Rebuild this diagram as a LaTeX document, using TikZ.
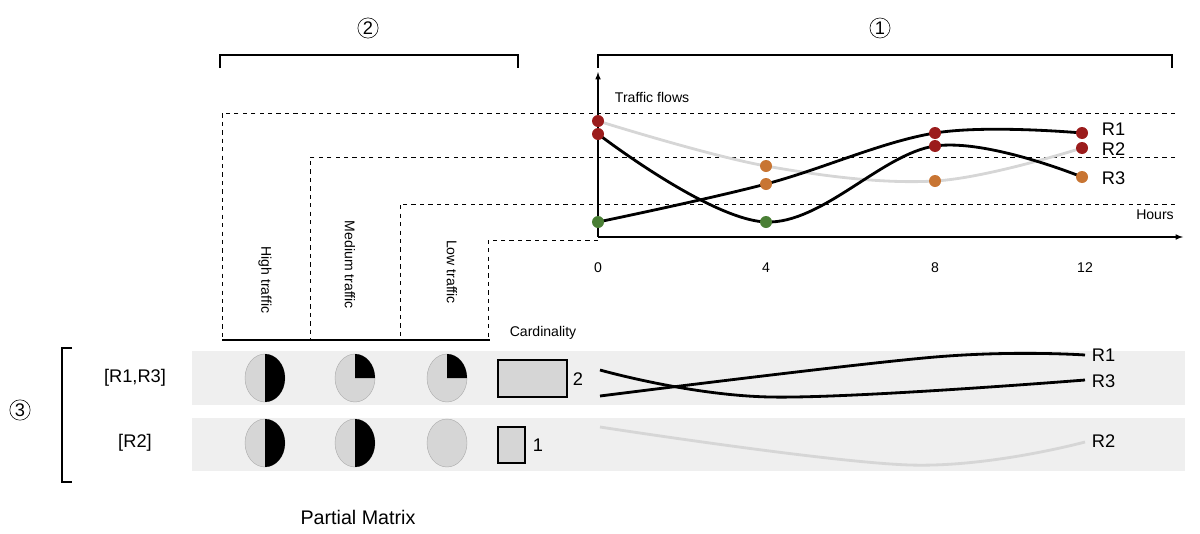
\documentclass[tikz,border=0pt]{standalone}
\usepackage{fontspec}
\setmainfont{Liberation Sans}
\usetikzlibrary{positioning}
\definecolor{dotred}{HTML}{9B1C1C}
\definecolor{dotorange}{HTML}{C87533}
\definecolor{dotgreen}{HTML}{4A7F35}
\definecolor{bandgray}{HTML}{EFEFEF}
\definecolor{piegray}{HTML}{D6D6D6}
\begin{document}
\begin{tikzpicture}[x=0.025cm, y=-0.025cm,
  dot/.style={circle, inner sep=0pt, minimum size=0.3cm},
  guide/.style={dashed, line width=0.7pt},
  bracket/.style={line width=0.8pt},
  curve/.style={line width=2pt},
  lbl/.style={font=\fontsize{13}{15}\selectfont},
  small/.style={font=\fontsize{10}{12}\selectfont},
  pie/.style={fill=piegray, draw=piegray!80!black, line width=0.3pt}]
  \useasboundingbox (0,0) rectangle (1200,533);
  % brackets with circled numbers
  \draw[bracket] (220,68) -- (220,55) -- (518,55) -- (518,68);
  \draw[bracket] (598,68) -- (598,55) -- (1172,55) -- (1172,68);
  \draw[bracket] (72,348) -- (62,348) -- (62,482) -- (72,482);
  \node[circle, draw, inner sep=1pt, lbl] (num2) at (368,28) {2};
  \node[circle, draw, inner sep=1pt, lbl] (num1) at (880,28) {1};
  \node[circle, draw, inner sep=1pt, lbl] (num3) at (20,410) {3};
  % dashed guides from the chart to the columns
  \draw[guide] (1175,113) -- (222,113) -- (222,340);
  \draw[guide] (1175,157) -- (310,157) -- (310,340);
  \draw[guide] (1175,204) -- (400,204) -- (400,340);
  \draw[guide] (598,240) -- (488,240) -- (488,340);
  \draw[line width=0.8pt] (222,340) -- (490,340);
  \node[small, rotate=-90] (high) at (265,280) {High traffic};
  \node[small, rotate=-90] (medium) at (350,265) {Medium traffic};
  \node[small, rotate=-90] (low) at (452,272) {Low traffic};
  \node[small] (card) at (543,333) {Cardinality};
  % axes
  \coordinate (origin) at (598,237);
  \coordinate (ytop) at (598,72);
  \coordinate (xend) at (1183,237);
  \draw[-latex, line width=0.8pt] (origin) -- (ytop);
  \draw[-latex, line width=0.8pt] (origin) -- (xend);
  \node[small, anchor=west] (yname) at (610,97) {Traffic flows};
  \node[small] (xname) at (1155,215) {Hours};
  \node[small] (t0) at (598,268) {0};
  \node[small] (t4) at (766,268) {4};
  \node[small] (t8) at (935,268) {8};
  \node[small] (t12) at (1085,268) {12};
  % chart points
  \coordinate (r2_pt0) at (598,121);
  \coordinate (r2_pt1) at (766,166);
  \coordinate (r2_pt2) at (935,181);
  \coordinate (r2_pt3) at (1082,148);
  \coordinate (r1_pt0) at (598,222);
  \coordinate (r1_pt1) at (766,184);
  \coordinate (r1_pt2) at (935,133);
  \coordinate (r1_pt3) at (1082,133);
  \coordinate (r3_pt0) at (598,134);
  \coordinate (r3_pt1) at (766,222);
  \coordinate (r3_pt2) at (935,146);
  \coordinate (r3_pt3) at (1082,177);
  \draw[curve, piegray] plot[smooth, tension=0.6] coordinates {(r2_pt0) (r2_pt1) (r2_pt2) (r2_pt3)};
  \draw[curve] plot[smooth, tension=0.6] coordinates {(r1_pt0) (r1_pt1) (r1_pt2) (r1_pt3)};
  \draw[curve] plot[smooth, tension=0.6] coordinates {(r3_pt0) (r3_pt1) (r3_pt2) (r3_pt3)};
  \node[dot, fill=dotred] (d_r2_0) at (r2_pt0) {};
  \node[dot, fill=dotorange] (d_r2_1) at (r2_pt1) {};
  \node[dot, fill=dotorange] (d_r2_2) at (r2_pt2) {};
  \node[dot, fill=dotred] (d_r2_3) at (r2_pt3) {};
  \node[dot, fill=dotgreen] (d_r1_0) at (r1_pt0) {};
  \node[dot, fill=dotorange] (d_r1_1) at (r1_pt1) {};
  \node[dot, fill=dotred] (d_r1_2) at (r1_pt2) {};
  \node[dot, fill=dotred] (d_r1_3) at (r1_pt3) {};
  \node[dot, fill=dotred] (d_r3_0) at (r3_pt0) {};
  \node[dot, fill=dotgreen] (d_r3_1) at (r3_pt1) {};
  \node[dot, fill=dotred] (d_r3_2) at (r3_pt2) {};
  \node[dot, fill=dotorange] (d_r3_3) at (r3_pt3) {};
  \node[lbl, anchor=west] (l_r1) at (1097,129) {R1};
  \node[lbl, anchor=west] (l_r2) at (1097,149) {R2};
  \node[lbl, anchor=west] (l_r3) at (1097,178) {R3};
  % matrix rows
  \fill[bandgray] (192,351) rectangle (1185,405);
  \fill[bandgray] (192,418) rectangle (1185,471);
  \node[lbl] (row1) at (135,378) {[R1,R3]};
  \node[lbl] (row2) at (135,443) {[R2]};
  % pies, first row
  \draw[pie] (265,378) ellipse[x radius=20, y radius=24];
  \fill (265,378) -- ++(0,-24) arc[start angle=-90, end angle=90, x radius=20, y radius=24] -- cycle;
  \draw[pie] (355,378) ellipse[x radius=20, y radius=24];
  \fill (355,378) -- ++(0,-24) arc[start angle=-90, end angle=0, x radius=20, y radius=24] -- cycle;
  \draw[pie] (447,378) ellipse[x radius=20, y radius=24];
  \fill (447,378) -- ++(0,-24) arc[start angle=-90, end angle=0, x radius=20, y radius=24] -- cycle;
  % pies, second row
  \draw[pie] (265,443) ellipse[x radius=20, y radius=24];
  \fill (265,443) -- ++(0,-24) arc[start angle=-90, end angle=90, x radius=20, y radius=24] -- cycle;
  \draw[pie] (355,443) ellipse[x radius=20, y radius=24];
  \fill (355,443) -- ++(0,-24) arc[start angle=-90, end angle=90, x radius=20, y radius=24] -- cycle;
  \draw[pie] (447,443) ellipse[x radius=20, y radius=24];
  % cardinality bars
  \draw[fill=piegray, line width=0.8pt] (498,360) rectangle (567,397);
  \node[lbl] (c2) at (578,379) {2};
  \draw[fill=piegray, line width=0.8pt] (498,427) rectangle (525,463);
  \node[lbl] (c1) at (538,445) {1};
  % row curves
  \coordinate (m1_pt0) at (600,396);
  \coordinate (m1_pt1) at (935,357);
  \coordinate (m1_pt2) at (1085,355);
  \coordinate (m3_pt0) at (600,370);
  \coordinate (m3_pt1) at (770,397);
  \coordinate (m3_pt2) at (1085,380);
  \coordinate (m2_pt0) at (600,427);
  \coordinate (m2_pt1) at (910,465);
  \coordinate (m2_pt2) at (1085,442);
  \draw[curve] plot[smooth, tension=0.6] coordinates {(m1_pt0) (m1_pt1) (m1_pt2)};
  \draw[curve] plot[smooth, tension=0.6] coordinates {(m3_pt0) (m3_pt1) (m3_pt2)};
  \draw[curve, piegray] plot[smooth, tension=0.6] coordinates {(m2_pt0) (m2_pt1) (m2_pt2)};
  \node[lbl, anchor=west] (m_r1) at (1087,355) {R1};
  \node[lbl, anchor=west] (m_r3) at (1087,381) {R3};
  \node[lbl, anchor=west] (m_r2) at (1087,441) {R2};
  \node[font=\fontsize{14}{16}\selectfont] (title) at (358,517) {Partial Matrix};
\end{tikzpicture}
\end{document}
